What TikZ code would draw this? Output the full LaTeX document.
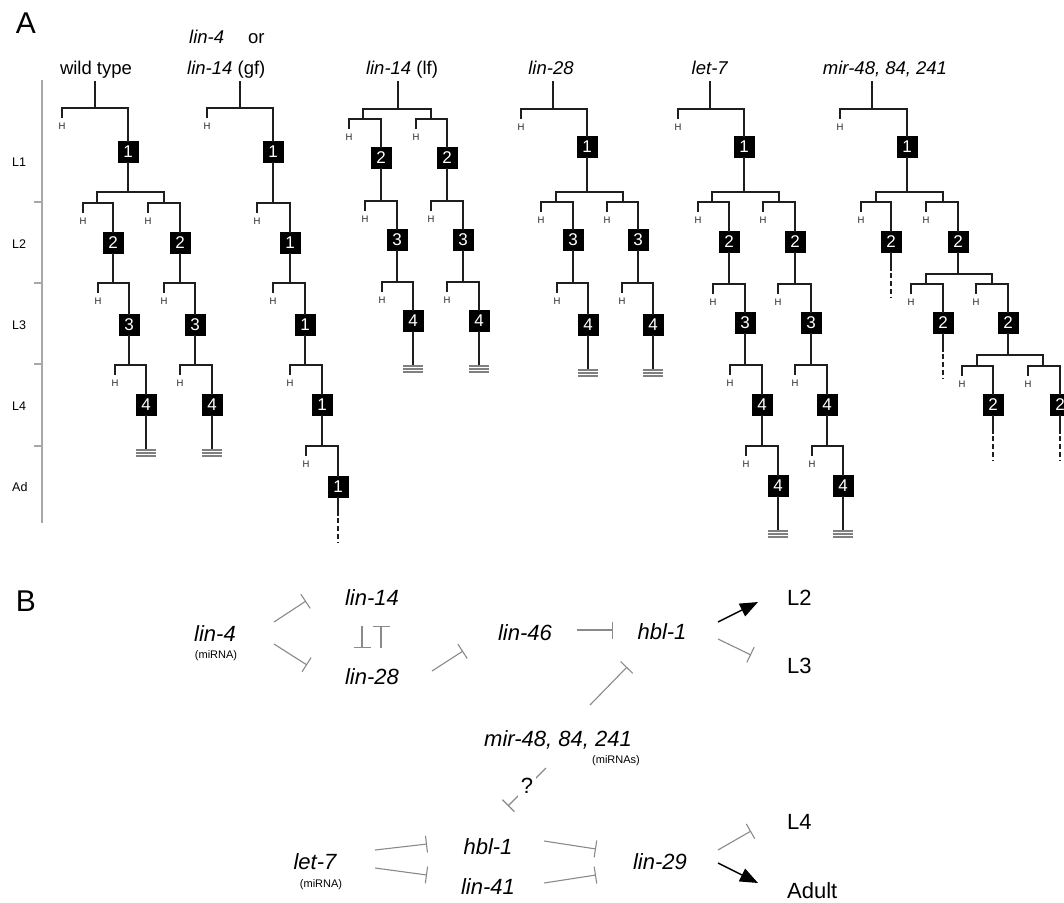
\documentclass[tikz,border=0pt]{standalone}
\usepackage{fontspec}
\setmainfont{Liberation Sans}
\usetikzlibrary{arrows.meta}
\definecolor{treec}{HTML}{1E1E1E}
\definecolor{inhc}{HTML}{8A8A8A}
\definecolor{axisc}{HTML}{A8A8A8}
\definecolor{termc}{HTML}{808080}
% one division: name, parent, bar y, left (H) x, right x, box y, number
\newcommand\seamdiv[7]{%
  \draw[tree] (#2.south) -- (#2.south |- 0,#3);
  \node[cell] (#1) at (#5,#6) {#7};
  \draw[tree] (#4,#3+9) -- (#4,#3) -- (#5,#3) -- (#1.north);
  \node[hlab] at (#4,#3+18) {H};
}
% double division: parent, bar y, left x, right x, names
\newcommand\dbldiv[6]{%
  \draw[tree] (#1.south) -- (#1.south |- 0,#2);
  \draw[tree] (#3,#2) -- (#4,#2);
  \node[pt] (#5) at (#3,#2) {};
  \node[pt] (#6) at (#4,#2) {};
}
\newcommand\termend[1]{%
  \draw[tree] (#1.south) -- ++(0,33);
  \draw[draw=termc, line width=1.1pt] (#1.south) ++(-10,34) -- ++(20,0) ++(-20,3) -- ++(20,0) ++(-20,3) -- ++(20,0);
}
\newcommand\contend[1]{%
  \draw[tree] (#1.south) -- ++(0,17);
  \draw[tree, line cap=butt, dash pattern=on 5pt off 3pt] (#1.south) ++(0,20) -- ++(0,25);
}
\begin{document}
\begin{tikzpicture}[x=1pt, y=-1pt,
  tree/.style={draw=treec, line width=1.8pt, line cap=rect},
  cell/.style={fill=black, text=white, minimum width=21pt, minimum height=22pt, inner sep=0pt, outer sep=0pt, font=\fontsize{17}{17}\selectfont},
  hlab/.style={font=\fontsize{9.5}{10}\selectfont, text=black!85},
  pt/.style={inner sep=0pt, outer sep=0pt, minimum size=0pt},
  hdr/.style={font=\fontsize{18.5}{20}\selectfont, anchor=base, inner sep=0pt},
  stg/.style={font=\fontsize{12.5}{13}\selectfont, anchor=west, inner sep=0pt},
  panel/.style={font=\fontsize{30}{30}\selectfont, inner sep=0pt},
  gene/.style={font=\fontsize{22}{24}\selectfont\itshape, inner sep=0pt},
  small/.style={font=\fontsize{11}{12}\selectfont, inner sep=0pt},
  stage/.style={font=\fontsize{22}{24}\selectfont, anchor=west, inner sep=0pt},
  inh/.style={draw=inhc, line width=1.1pt, -{Bar[width=17pt, line width=1.1pt]}},
  act/.style={draw=black, line width=1.4pt, -{Triangle[length=18pt, width=14pt]}},
  axis/.style={draw=axisc, line width=1.2pt}]
\useasboundingbox (0,0) rectangle (1064,902);
\clip (0,0) rectangle (1064,902);

% ---------------- Panel A ----------------
\node[panel] (pA) at (26,23) {A};

\draw[axis] (42,80) -- (42,523);
\foreach \yy in {202,283,364,446} \draw[axis] (34,\yy) -- (42,\yy);
\node[stg] (sL1) at (12,162) {L1};
\node[stg] (sL2) at (12,244) {L2};
\node[stg] (sL3) at (12,325) {L3};
\node[stg] (sL4) at (12,406) {L4};
\node[stg] (sAd) at (12,487) {Ad};

% headers
\node[hdr] (hwt) at (96,74) {wild type};
\node[hdr, anchor=base west] (hl4a) at (189,43) {\textit{lin-4}\hspace{24pt}or};
\node[hdr, anchor=base west] (hl4b) at (187,74) {\textit{lin-14} (gf)};
\node[hdr] (hlf) at (402,74) {\textit{lin-14} (lf)};
\node[hdr] (hl28) at (551,74) {\textit{lin-28}};
\node[hdr] (hl7) at (710,74) {\textit{let-7}};
\node[hdr] (hmr) at (885,74) {\textit{mir-48, 84, 241}};

% wild type
\node[pt] (wt0) at (95,82) {};
\seamdiv{wt1}{wt0}{108}{62}{128}{152}{1}
\dbldiv{wt1}{192}{97}{164}{wtA}{wtB}
\seamdiv{wt2a}{wtA}{203}{83}{113}{243}{2}
\seamdiv{wt2b}{wtB}{203}{148}{180}{243}{2}
\seamdiv{wt3a}{wt2a}{283}{98}{129}{325}{3}
\seamdiv{wt3b}{wt2b}{283}{164}{195}{325}{3}
\seamdiv{wt4a}{wt3a}{365}{115}{146}{405}{4}
\seamdiv{wt4b}{wt3b}{365}{180}{212}{405}{4}
\termend{wt4a}
\termend{wt4b}

% lin-4 or lin-14 (gf)
\node[pt] (l40) at (240,82) {};
\seamdiv{l41}{l40}{108}{207}{273}{152}{1}
\seamdiv{l42}{l41}{203}{257}{290}{243}{1}
\seamdiv{l43}{l42}{283}{273}{305}{325}{1}
\seamdiv{l44}{l43}{365}{290}{322}{405}{1}
\seamdiv{l45}{l44}{446}{306}{338}{487}{1}
\contend{l45}

% lin-14 (lf)
\node[pt] (lf0) at (398,82) {};
\dbldiv{lf0}{109}{363}{431}{lfA}{lfB}
\seamdiv{lf2a}{lfA}{119}{349}{381}{158}{2}
\seamdiv{lf2b}{lfB}{119}{416}{447}{158}{2}
\seamdiv{lf3a}{lf2a}{201}{365}{397}{240}{3}
\seamdiv{lf3b}{lf2b}{201}{431}{463}{240}{3}
\seamdiv{lf4a}{lf3a}{282}{382}{413}{321}{4}
\seamdiv{lf4b}{lf3b}{282}{447}{479}{321}{4}
\termend{lf4a}
\termend{lf4b}

% lin-28
\node[pt] (m0) at (553,82) {};
\seamdiv{m1}{m0}{109}{521}{587}{147}{1}
\dbldiv{m1}{192}{556}{623}{mA}{mB}
\seamdiv{m3a}{mA}{202}{541}{573}{240}{3}
\seamdiv{m3b}{mB}{202}{607}{638}{240}{3}
\seamdiv{m4a}{m3a}{283}{557}{588}{325}{4}
\seamdiv{m4b}{m3b}{283}{622}{653}{325}{4}
\termend{m4a}
\termend{m4b}

% let-7
\node[pt] (s0) at (710,82) {};
\seamdiv{s1}{s0}{109}{678}{744}{147}{1}
\dbldiv{s1}{192}{712}{779}{sA}{sB}
\seamdiv{s2a}{sA}{202}{698}{729}{242}{2}
\seamdiv{s2b}{sB}{202}{763}{795}{242}{2}
\seamdiv{s3a}{s2a}{284}{713}{745}{323}{3}
\seamdiv{s3b}{s2b}{284}{778}{811}{323}{3}
\seamdiv{s4a}{s3a}{365}{730}{762}{405}{4}
\seamdiv{s4b}{s3b}{365}{795}{827}{405}{4}
\seamdiv{s5a}{s4a}{446}{746}{778}{486}{4}
\seamdiv{s5b}{s4b}{446}{812}{843}{486}{4}
\termend{s5a}
\termend{s5b}

% mir-48, 84, 241
\node[pt] (r0) at (872,82) {};
\seamdiv{r1}{r0}{109}{840}{907}{147}{1}
\dbldiv{r1}{192}{876}{943}{rA}{rB}
\seamdiv{r2a}{rA}{202}{861}{891}{242}{2}
\seamdiv{r2b}{rB}{202}{926}{958}{242}{2}
\contend{r2a}
\dbldiv{r2b}{274}{926}{992}{rC}{rD}
\seamdiv{r3a}{rC}{284}{911}{943}{323}{2}
\seamdiv{r3b}{rD}{284}{976}{1008}{323}{2}
\contend{r3a}
\dbldiv{r3b}{355}{977}{1043}{rE}{rF}
\seamdiv{r4a}{rE}{366}{962}{993}{405}{2}
\seamdiv{r4b}{rF}{366}{1028}{1060}{405}{2}
\contend{r4a}
\contend{r4b}

% ---------------- Panel B ----------------
\node[panel] (pB) at (26,601) {B};

\node[gene] (lin4) at (215,634) {lin-4};
\node[small] (lin4m) at (216,656) {(miRNA)};
\node[gene] (lin14) at (372,598) {lin-14};
\node[gene] (lin28) at (372,677) {lin-28};
\node[gene] (lin46) at (525,633) {lin-46};
\node[gene] (hbl1) at (662,632) {hbl-1};
\node[stage] (L2) at (787,598) {L2};
\node[stage] (L3) at (787,666) {L3};
\node[gene] (mir) at (558,740) {mir-48, 84, 241};
\node[small] (mirm) at (616,761) {(miRNAs)};
\node[gene] (let7) at (315,862) {let-7};
\node[small] (let7m) at (321,885) {(miRNA)};
\node[gene] (hblb) at (488,847) {hbl-1};
\node[gene] (lin41) at (488,887) {lin-41};
\node[gene] (lin29) at (660,862) {lin-29};
\node[stage] (L4) at (787,822) {L4};
\node[stage] (Ad) at (787,891) {Adult};

% connector end points
\coordinate (c1) at (274,622); \coordinate (c1e) at (306,601);
\coordinate (c2) at (274,644); \coordinate (c2e) at (307,665);
\coordinate (c3) at (362,626); \coordinate (c3e) at (362,648);
\coordinate (c4) at (381,648); \coordinate (c4e) at (381,626);
\coordinate (c5) at (432,671); \coordinate (c5e) at (463,651);
\coordinate (c6) at (577,630); \coordinate (c6e) at (613,630);
\coordinate (c7) at (718,622); \coordinate (c7e) at (758,602);
\coordinate (c8) at (718,639); \coordinate (c8e) at (751,655);
\coordinate (c9) at (590,705); \coordinate (c9e) at (627,667);
\coordinate (c10) at (546,768); \coordinate (c10e) at (508,806);
\coordinate (c11) at (375,850); \coordinate (c11e) at (427,844);
\coordinate (c12) at (375,868); \coordinate (c12e) at (427,875);
\coordinate (c13) at (544,841); \coordinate (c13e) at (596,849);
\coordinate (c14) at (544,883); \coordinate (c14e) at (596,875);
\coordinate (c15) at (718,850); \coordinate (c15e) at (751,831);
\coordinate (c16) at (718,863); \coordinate (c16e) at (758,883);

\draw[inh] (c1) -- (c1e);
\draw[inh] (c2) -- (c2e);
\draw[inh] (c3) -- (c3e);
\draw[inh] (c4) -- (c4e);
\draw[inh] (c5) -- (c5e);
\draw[inh] (c6) -- (c6e);
\draw[act] (c7) -- (c7e);
\draw[inh] (c8) -- (c8e);
\draw[inh] (c9) -- (c9e);
\draw[inh] (c10) -- (c10e);
\node[font=\fontsize{22}{24}\selectfont, fill=white, inner sep=3pt] (q) at (527,786) {?};
\draw[inh] (c11) -- (c11e);
\draw[inh] (c12) -- (c12e);
\draw[inh] (c13) -- (c13e);
\draw[inh] (c14) -- (c14e);
\draw[inh] (c15) -- (c15e);
\draw[act] (c16) -- (c16e);
\end{tikzpicture}
\end{document}
